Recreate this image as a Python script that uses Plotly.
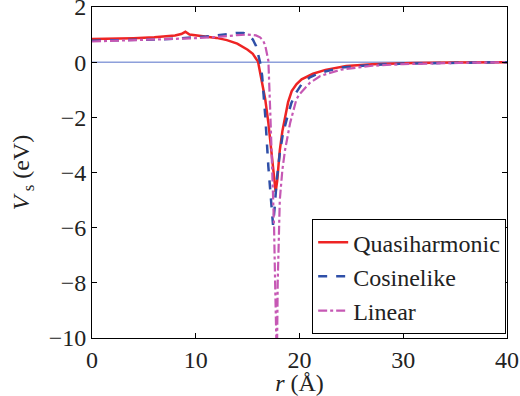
import plotly.graph_objects as go

# Quasiharmonic
r_q = [0, 2, 4, 6, 7, 8, 8.6, 9.0, 9.4, 10, 11, 12, 13, 14, 15, 15.5, 16.0, 16.35, 16.7, 17.0, 17.3, 17.55, 17.7,
       17.85, 18.1, 18.35, 18.6, 18.9, 19.25, 19.7, 20.2, 21.3, 22.5, 24.5, 27, 31, 35, 40]
v_q = [0.84, 0.85, 0.87, 0.9, 0.93, 0.97, 1.02, 1.1, 1.0, 0.97, 0.93, 0.88, 0.8, 0.67, 0.45, 0.3, 0.02, -0.6, -1.35,
       -2.2, -3.2, -4.2, -4.7, -4.3, -3.2, -2.5, -1.95, -1.45, -1.05, -0.8, -0.62, -0.42, -0.28, -0.14, -0.08, -0.03,
       -0.01, 0.0]

# Cosinelike
r_c = [0, 2, 4, 6, 8, 9, 10, 11, 12, 13, 14, 14.6, 15.1, 15.5, 15.8, 16.0, 16.2, 16.4, 16.7, 17.0, 17.25, 17.45,
       17.6, 17.8, 18.1, 18.4, 18.75, 19.2, 19.6, 20.2, 21, 22, 24, 27, 30, 35, 40]
v_c = [0.78, 0.79, 0.8, 0.82, 0.85, 0.87, 0.9, 0.93, 0.97, 1.02, 1.06, 1.06, 0.98, 0.82, 0.6, 0.3, 0.0, -0.5, -1.95,
       -3.8, -5.0, -5.9, -5.3, -4.3, -3.3, -2.6, -2.1, -1.5, -1.15, -0.8, -0.55, -0.38, -0.2, -0.1, -0.05, -0.02, 0.0]

# Linear
r_l = [0, 2, 4, 6, 8, 10, 12, 13, 14, 15, 15.8, 16.2, 16.5, 16.7, 16.9, 17.0, 17.2, 17.4, 17.55, 17.65, 17.75,
       17.82, 17.9, 18.0, 18.1, 18.35, 18.6, 19.1, 19.7, 20.0, 21, 22, 24, 27, 30, 35, 40]
v_l = [0.75, 0.77, 0.79, 0.81, 0.84, 0.87, 0.91, 0.95, 0.98, 1.0, 0.97, 0.9, 0.78, 0.6, 0.3, 0.05, -2.0, -4.0, -6.0,
       -8.0, -10.5, -11.0, -8.0, -6.2, -5.0, -3.9, -3.2, -2.2, -1.35, -1.16, -0.75, -0.5, -0.27, -0.13, -0.07, -0.03,
       0.0]

x_ticks = [0, 10, 20, 30, 40]
y_ticks = [-10, -8, -6, -4, -2, 0, 2]

FONT = "Liberation Serif, Times New Roman, serif"

fig = go.Figure()
fig.add_trace(go.Scatter(x=[0, 40], y=[0, 0], mode="lines", line=dict(color="#5470c8", width=1),
                         showlegend=False, hoverinfo="skip"))
fig.add_trace(go.Scatter(x=r_q, y=v_q, mode="lines", name="Quasiharmonic",
                         line=dict(color="#ee2424", width=2.5)))
fig.add_trace(go.Scatter(x=r_c, y=v_c, mode="lines", name="Cosinelike",
                         line=dict(color="#2f4fa8", width=2.5, dash="dash")))
fig.add_trace(go.Scatter(x=r_l, y=v_l, mode="lines", name="Linear",
                         line=dict(color="#c658b4", width=2.2, dash="dashdot")))

axis_common = dict(showline=True, linecolor="black", linewidth=1, mirror="ticks", ticks="inside",
                   ticklen=5, tickcolor="black", showgrid=False, zeroline=False,
                   ticklabeloverflow="allow", automargin=False,
                   tickfont=dict(family=FONT, size=24, color="#222"))

fig.update_xaxes(range=[0, 40], tickvals=x_ticks, **axis_common,
                 title=dict(text="<i>r</i> (Å)", font=dict(family=FONT, size=24, color="#222"), standoff=0))
fig.update_yaxes(range=[-10, 2], tickvals=y_ticks, tickformat="d", **axis_common,
                 title=dict(text="<i>V</i><sub> s</sub> (eV)", font=dict(family=FONT, size=24, color="#222"),
                            standoff=12))

fig.update_layout(
    width=520, height=396,
    margin=dict(l=92, r=13, t=7, b=58),
    paper_bgcolor="white", plot_bgcolor="white",
    font=dict(family=FONT, size=24, color="#222"),
    legend=dict(x=0.998, y=0.012, xanchor="right", yanchor="bottom",
                bordercolor="black", borderwidth=1, bgcolor="white",
                font=dict(family=FONT, size=24, color="#222"), tracegroupgap=0),
)

fig.write_html("out.html")
